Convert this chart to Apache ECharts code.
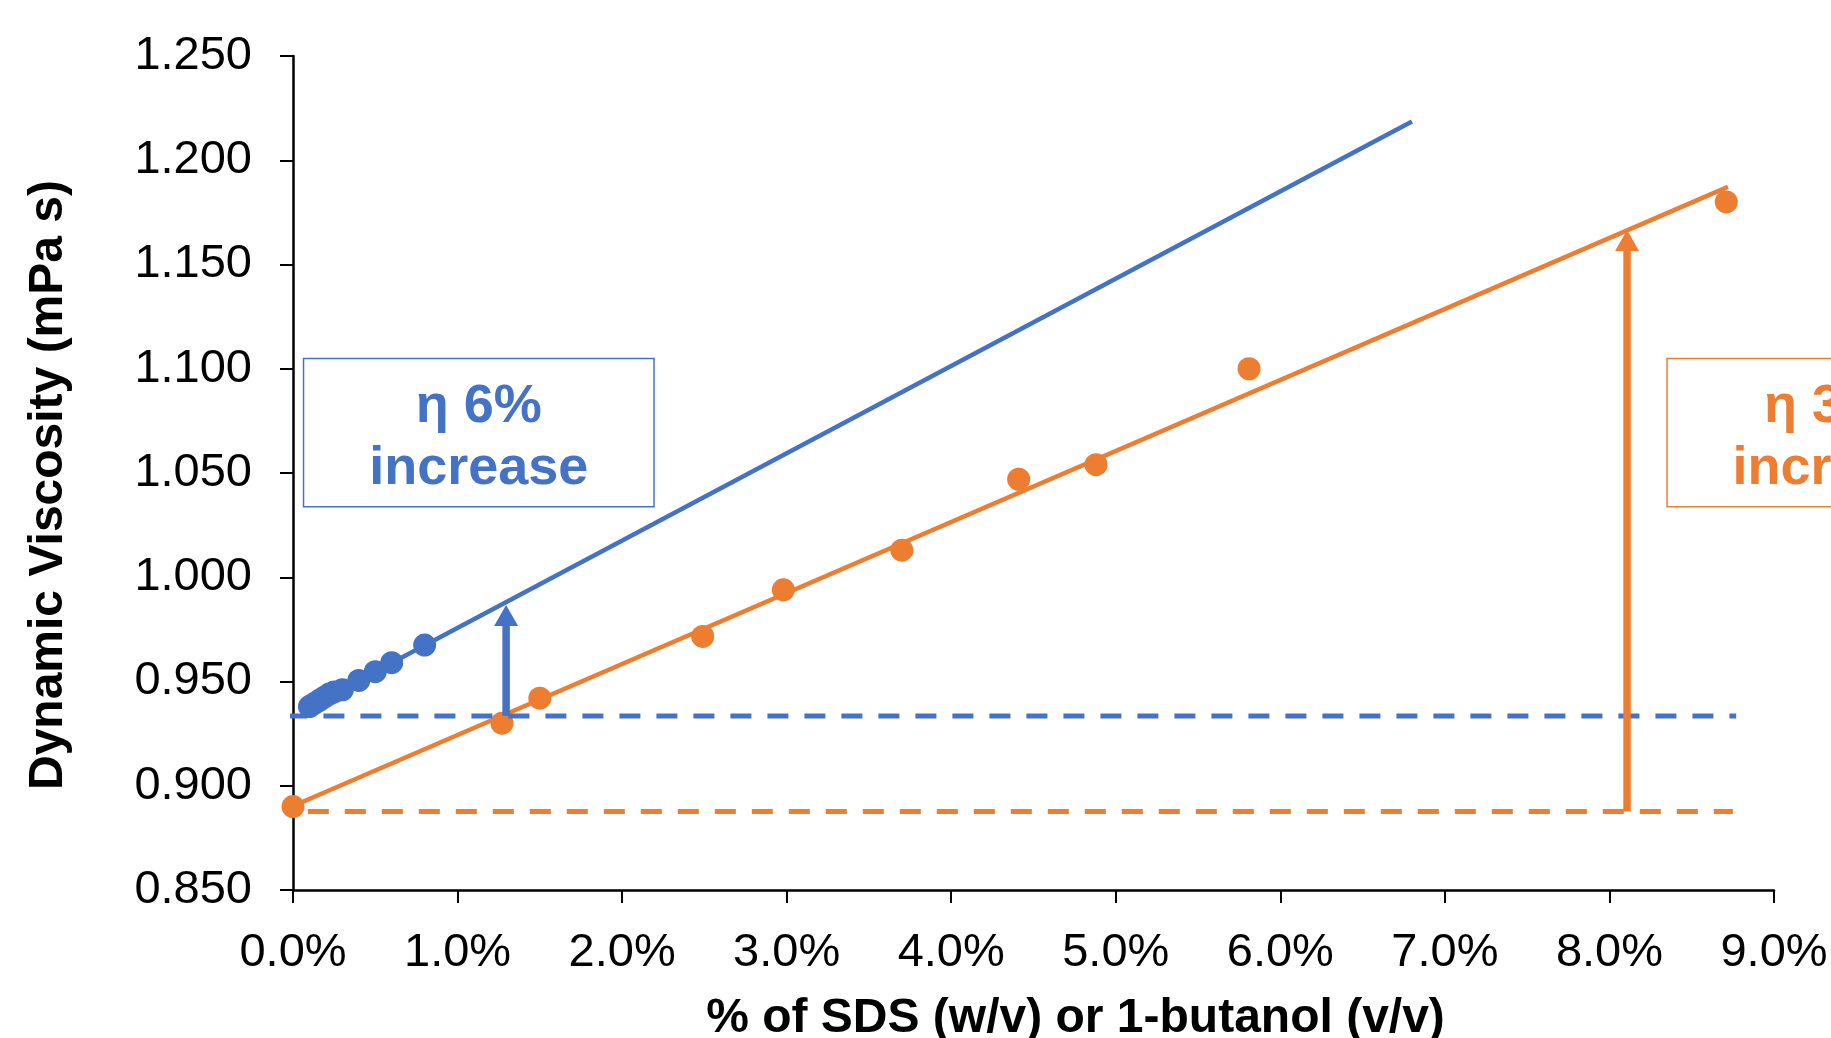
<!DOCTYPE html>
<html><head><meta charset="utf-8">
<script src="https://cdn.jsdelivr.net/npm/echarts@6/dist/echarts.min.js"></script>
<style>html,body{margin:0;padding:0;background:#fff}#c{width:1831px;height:1038px}</style>
</head><body><div id="c"></div>
<script>
const BLUE = '#4472C4', ORANGE = '#ED7D31';
const FONT = '"Liberation Sans", Arial, sans-serif';

// SDS (w/v) measured points
const sdsX = [0.10, 0.13, 0.16, 0.19, 0.22, 0.25, 0.30, 0.40, 0.50, 0.60, 0.80];
const sdsY = [0.938, 0.9395, 0.941, 0.9425, 0.944, 0.945, 0.946, 0.9505, 0.9547, 0.959, 0.9675];
// 1-butanol (v/v) measured points
const butX = [0, 1.27, 1.50, 2.49, 2.98, 3.70, 4.41, 4.88, 5.81, 8.71];
const butY = [0.890, 0.930, 0.942, 0.9716, 0.994, 1.013, 1.047, 1.054, 1.100, 1.180];
// linear trendlines (end points)
const sdsTrendX = [0.10, 6.80];
const sdsTrendY = [0.9380, 1.2186];
const butTrendX = [0, 8.72];
const butTrendY = [0.8903, 1.1872];
// dashed reference levels
const sdsBaseX = [-0.04, 8.77];
const sdsBaseY = [0.9335, 0.9335];
const butBaseX = [0.09, 8.75];
const butBaseY = [0.8876, 0.8876];
// increase arrows (base -> tip)
const sdsArrowX = [1.295, 1.295];
const sdsArrowY = [0.9335, 0.9867];
const butArrowX = [8.107, 8.107];
const butArrowY = [0.8876, 1.1665];
// annotation labels
const sdsNote = 'η 6%\nincrease';
const butNote = 'η 31%\nincrease';
// annotation boxes in data units [x0, y0, x1, y1]
const sdsBox = [0.064, 1.1049, 2.194, 1.0338];
const butBox = [8.350, 1.1049, 10.478, 1.0338];
// tick labels
const xTickLabels = ['0.0%','1.0%','2.0%','3.0%','4.0%','5.0%','6.0%','7.0%','8.0%','9.0%'];
const yTickLabels = ['0.850','0.900','0.950','1.000','1.050','1.100','1.150','1.200','1.250'];

const zip = (xs, ys) => xs.map((x, i) => [x, ys[i]]);

const chart = echarts.init(document.getElementById('c'), null, {renderer: 'canvas'});

function lineSeries(xs, ys, color, width, type) {
  return {
    type: 'line', data: zip(xs, ys), symbol: 'none', clip: false, silent: true,
    lineStyle: {color: color, width: width, type: type || 'solid', cap: 'butt'},
    animation: false
  };
}
function shaft(xs, ys) {
  // stop a little below the tip; the head covers the end
  return [xs[0], xs[1]].map((x, i) => [x, i === 0 ? ys[0] : ys[1] - 0.004]);
}
function headSeries(xs, ys, color) {
  return {
    type: 'scatter', data: [[xs[1], ys[1]]], symbol: 'triangle', symbolSize: [24, 21],
    symbolOffset: [0, '50%'], itemStyle: {color: color, opacity: 1}, silent: true, animation: false
  };
}

const option = {
  backgroundColor: '#fff',
  animation: false,
  grid: {left: 293, right: 57, top: 56, bottom: 148, containLabel: false, outerBoundsMode: 'none'},
  xAxis: {
    type: 'value', min: 0, max: 9, interval: 1,
    name: '% of SDS (w/v) or 1-butanol (v/v)', nameLocation: 'middle', nameGap: 105,
    nameTextStyle: {fontFamily: FONT, fontSize: 48, fontWeight: 'bold', color: '#000', padding: [0, 0, 0, 84]},
    axisLine: {show: true, onZero: false, lineStyle: {color: '#000', width: 2.5}},
    axisTick: {show: true, inside: false, length: 13, lineStyle: {color: '#000', width: 2}},
    axisLabel: {margin: 40, fontFamily: FONT, fontSize: 47, color: '#000',
      formatter: (v) => xTickLabels[Math.round(v)]},
    splitLine: {show: false}
  },
  yAxis: {
    type: 'value', min: 0.85, max: 1.25, interval: 0.05,
    name: 'Dynamic Viscosity (mPa s)', nameLocation: 'middle', nameGap: 220,
    nameTextStyle: {fontFamily: FONT, fontSize: 48, fontWeight: 'bold', color: '#000', padding: [0, 24, 0, 0]},
    axisLine: {show: true, onZero: false, lineStyle: {color: '#000', width: 2.5}},
    axisTick: {show: true, inside: false, length: 13, lineStyle: {color: '#000', width: 2}},
    axisLabel: {margin: 41, fontFamily: FONT, fontSize: 47, color: '#000',
      formatter: (v) => yTickLabels[Math.round((v - 0.85) / 0.05)]},
    splitLine: {show: false}
  },
  series: [
    lineSeries(sdsTrendX, sdsTrendY, BLUE, 4.5),
    lineSeries(butTrendX, butTrendY, ORANGE, 4.5),
    {type: 'scatter', name: 'SDS', data: zip(sdsX, sdsY), symbol: 'circle', symbolSize: 23,
      itemStyle: {color: BLUE, opacity: 1}, animation: false},
    {type: 'scatter', name: '1-butanol', data: zip(butX, butY), symbol: 'circle', symbolSize: 23,
      itemStyle: {color: ORANGE, opacity: 1}, animation: false},
    lineSeries(butBaseX, butBaseY, ORANGE, 5, [21, 16]),
    lineSeries(sdsBaseX, sdsBaseY, BLUE, 5, [21, 16]),
    Object.assign(lineSeries(sdsArrowX, sdsArrowY, BLUE, 7.5), {data: shaft(sdsArrowX, sdsArrowY)}),
    headSeries(sdsArrowX, sdsArrowY, BLUE),
    Object.assign(lineSeries(butArrowX, butArrowY, ORANGE, 7.5), {data: shaft(butArrowX, butArrowY)}),
    headSeries(butArrowX, butArrowY, ORANGE)
  ]
};
chart.setOption(option);

function noteGraphic(box, text, color) {
  const p0 = chart.convertToPixel({gridIndex: 0}, [box[0], box[1]]);
  const p1 = chart.convertToPixel({gridIndex: 0}, [box[2], box[3]]);
  return [{
    type: 'rect', shape: {x: p0[0], y: p0[1], width: p1[0] - p0[0], height: p1[1] - p0[1]},
    style: {fill: '#fff', stroke: color, lineWidth: 1.5}, z: 100
  }, {
    type: 'text', x: (p0[0] + p1[0]) / 2, y: (p0[1] + p1[1]) / 2 + 5, z: 101,
    style: {text: text, fill: color, font: 'bold 54px ' + FONT, align: 'center', verticalAlign: 'middle', lineHeight: 62}
  }];
}
chart.setOption({graphic: [].concat(noteGraphic(sdsBox, sdsNote, BLUE), noteGraphic(butBox, butNote, ORANGE))});
</script>
</body></html>
